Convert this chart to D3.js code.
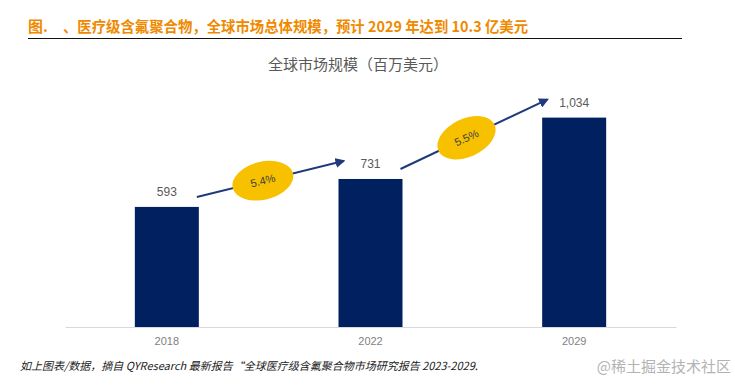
<!DOCTYPE html>
<html>
<head>
<meta charset="utf-8">
<script src="https://cdn.jsdelivr.net/npm/d3@7"></script>
<style>
  body { margin: 0; background: #fff; }
  svg { display: block; font-family: "Noto Sans CJK SC", "Noto Sans", sans-serif; }
</style>
</head>
<body>
<svg></svg>
<script>
  // data
  const years = ["2018", "2022", "2029"];
  const values = [593, 731, 1034];
  const valueLabels = ["593", "731", "1,034"];
  const cagrLabels = ["5.4%", "5.5%"];

  const width = 735;
  const height = 385;

  const svg = d3.select("svg")
      .attr("width", width)
      .attr("height", height);

  // heading
  svg.append("text")
      .attr("x", 28)
      .attr("y", 32)
      .attr("fill", "#ef8a00")
      .attr("font-size", 15)
      .attr("font-weight", "bold")
      .text("图.");
  svg.append("text")
      .attr("x", 63)
      .attr("y", 32)
      .attr("fill", "#ef8a00")
      .attr("font-size", 15)
      .attr("font-weight", "bold")
      .attr("textLength", 465)
      .attr("lengthAdjust", "spacingAndGlyphs")
      .text("、医疗级含氟聚合物，全球市场总体规模，预计 2029 年达到 10.3 亿美元");

  svg.append("line")
      .attr("x1", 28).attr("x2", 682)
      .attr("y1", 38.5).attr("y2", 38.5)
      .attr("stroke", "#111")
      .attr("stroke-width", 1);

  svg.append("text")
      .attr("x", 358)
      .attr("y", 70)
      .attr("text-anchor", "middle")
      .attr("fill", "#595959")
      .attr("font-size", 15)
      .text("全球市场规模（百万美元）");

  // scales
  const x = d3.scaleBand()
      .domain(years)
      .range([65, 676]);
  const barW = 64;

  const y = d3.scaleLinear()
      .domain([0, 1200])
      .range([327, 84]);

  // baseline axis
  const xAxis = svg.append("g")
      .attr("transform", `translate(0,${y(0)})`)
      .call(d3.axisBottom(x).tickSize(0).tickPadding(10));
  xAxis.select(".domain").attr("stroke", "#d9d9d9");
  xAxis.selectAll("text")
      .attr("fill", "#7f7f7f")
      .attr("font-size", 11)
      .attr("font-family", "\"Liberation Sans\", sans-serif");

  // bars
  svg.append("g")
    .selectAll("rect")
    .data(values)
    .join("rect")
      .attr("x", (d, i) => x(years[i]) + x.bandwidth() / 2 - barW / 2)
      .attr("y", d => y(d))
      .attr("width", barW)
      .attr("height", d => y(0) - y(d))
      .attr("fill", "#002060");

  svg.append("g")
    .selectAll("text")
    .data(values)
    .join("text")
      .attr("x", (d, i) => x(years[i]) + x.bandwidth() / 2)
      .attr("y", d => y(d) - 11)
      .attr("text-anchor", "middle")
      .attr("fill", "#595959")
      .attr("font-size", 12)
      .attr("font-family", "\"Liberation Sans\", sans-serif")
      .text((d, i) => valueLabels[i]);

  // growth arrows
  svg.append("defs").append("marker")
      .attr("id", "arr")
      .attr("viewBox", "0 0 10 10")
      .attr("refX", 8).attr("refY", 5)
      .attr("markerWidth", 5).attr("markerHeight", 5)
      .attr("orient", "auto")
    .append("path")
      .attr("d", "M0,0L10,5L0,10z")
      .attr("fill", "#1f3a7a");

  const arrows = cagrLabels.map((c, i) => {
    const x0 = x(years[i]) + x.bandwidth() / 2 + barW / 2 - 2;
    const y0 = y(values[i]) - 10;
    const x1 = x(years[i + 1]) + x.bandwidth() / 2 - barW / 2 + 5;
    const y1 = y(values[i + 1]) - 18;
    return {c, x0, y0, x1, y1};
  });

  const ag = svg.append("g");
  ag.selectAll("line")
    .data(arrows)
    .join("line")
      .attr("x1", d => d.x0).attr("y1", d => d.y0)
      .attr("x2", d => d.x1).attr("y2", d => d.y1)
      .attr("stroke", "#1f3a7a")
      .attr("stroke-width", 2)
      .attr("marker-end", "url(#arr)");

  const bubble = ag.selectAll("g")
    .data(arrows)
    .join("g")
      .attr("transform", d => {
        const cx = d.x0 + (d.x1 - d.x0) * 0.45;
        const cy = d.y0 + (d.y1 - d.y0) * 0.45;
        const a = Math.atan2(d.y1 - d.y0, d.x1 - d.x0) * 180 / Math.PI;
        return `translate(${cx},${cy}) rotate(${a})`;
      });
  bubble.append("ellipse")
      .attr("rx", 31).attr("ry", 19)
      .attr("fill", "#f7c100");
  bubble.append("text")
      .attr("text-anchor", "middle")
      .attr("dy", "0.35em")
      .attr("fill", "#404040")
      .attr("font-size", 11)
      .attr("font-family", "\"Liberation Sans\", sans-serif")
      .text(d => d.c);

  // footer
  svg.append("text")
      .attr("x", 20)
      .attr("y", 370)
      .attr("fill", "#222")
      .attr("font-size", 11)
      .attr("font-style", "italic")
      .text("如上图表/数据，摘自 QYResearch 最新报告“全球医疗级含氟聚合物市场研究报告 2023-2029.");

  svg.append("text")
      .attr("x", 731)
      .attr("y", 372)
      .attr("text-anchor", "end")
      .attr("fill", "#b3b3b3")
      .attr("font-size", 15)
      .text("@稀土掘金技术社区");
</script>
</body>
</html>
